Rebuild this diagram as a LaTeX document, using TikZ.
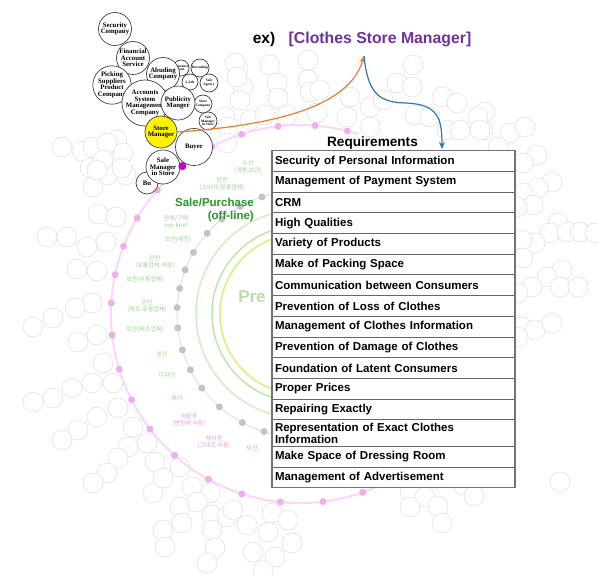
\documentclass[tikz,border=0pt]{standalone}
\usepackage{fontspec}
\setmainfont{Liberation Serif}
\newfontfamily\sansb{Liberation Sans}
\newfontfamily\kr{Noto Sans CJK KR}
\usetikzlibrary{arrows.meta,calc}
\definecolor{pinkline}{RGB}{250,215,250}
\definecolor{pinkdot}{RGB}{236,176,236}
\definecolor{magdot}{RGB}{204,0,204}
\definecolor{grayline}{RGB}{225,225,225}
\definecolor{graydot}{RGB}{195,195,195}
\definecolor{ttlpurple}{RGB}{112,48,160}
\definecolor{arrorange}{RGB}{237,125,49}
\definecolor{arrblue}{RGB}{46,117,182}
\definecolor{salegreen}{RGB}{40,150,40}
\definecolor{faintgreen}{RGB}{160,210,150}
\definecolor{faintpink}{RGB}{228,160,228}
\definecolor{faintcirc}{RGB}{218,218,218}
\definecolor{ringgreen}{RGB}{205,240,195}
\definecolor{ringgreenb}{RGB}{185,232,170}
\definecolor{ringyellow}{RGB}{225,240,150}
\definecolor{pregreen}{RGB}{185,222,165}
\tikzset{
 bub/.style={circle, draw=black!75, line width=0.7pt, fill=white, inner sep=0pt, align=center,
   font=\fontsize{6.8}{6.6}\selectfont\bfseries},
 smallbub/.style={bub, font=\fontsize{3.5}{3.7}\selectfont\bfseries},
 req/.style={draw=black!60, line width=0.8pt, fill=white, anchor=north west, minimum width=243pt,
   minimum height=20.7pt, text width=237pt, inner sep=3pt, outer sep=0pt, align=left,
   font=\sansb\fontsize{11.5}{12}\selectfont\bfseries},
 fcirc/.style={draw=faintcirc, line width=0.45pt, fill=white},
 pdot/.style={fill=pinkdot},
 gdot/.style={fill=graydot},
 flabg/.style={text=faintgreen, font=\kr\fontsize{6}{7}\selectfont, align=center, inner sep=0pt},
 flabp/.style={text=faintpink, font=\kr\fontsize{6}{7}\selectfont, align=center, inner sep=0pt},
 conn/.style={line width=1.2pt, -{Stealth[length=7pt,width=6pt]}},
}
\begin{document}
\begin{tikzpicture}[x=1pt,y=-1pt]
\useasboundingbox (0,0) rectangle (598,575);
\fill[white] (0,0) rectangle (598,575);
% faint background circles
\foreach \x/\y in {62/147,82/151,100/153,117/140,120/160,90/168,108/175,126/175,93/187,98/214,116/217,
 47/237,67/237,87/247,106/242,77/269,97/271,92/303,75/308,53/318,33/327,97/335,78/342,
 103/363,92/383,113/383,72/388,53/398,33/402,118/408,97/417,78/430,62/440,133/427,128/447,147/443,
 118/458,107/473,93/483,153/493,155/462,163/478,180/467,192/487,210/493,180/507,197/502,163/530,
 182/523,165/547,212/515,227/517,247/525,212/530,215/548,207/563,233/510,272/513,288/520,268/532,
 292/543,253/552,275/557,263/570,410/492,425/497,410/507,438/506,442/523,463/485,474/496,560/482,
 485/112,483/130,510/133,525/127,498/147,537/155,523/163,552/182,538/188,523/193,533/205,517/207,
 558/223,550/233,567/232,580/232,595/233,535/243,522/240,523/258,562/270,547/277,532/287,560/287,
 578/287,518/293,522/327,535/330,552/323,518/337,
 238/68,243/87,270/65,277/83,240/100,278/98,225/117,250/120,265/115,287/115,220/135,
 308/60,308/80,310/92,320/90,350/97,317/113,347/117,370/127,370/107,383/100,397/83,413/65,412/87,
 442/97,457/103,478/117,415/115,430/117,447/130,460/130,480/130,
 93/147,107/143,123/153,103/160,122/168,97/170,235/63,237/77,228/127,227/143}
 {\draw[fcirc] (\x,\y) circle (10);}
% rings
\draw[ringgreen, line width=1.5pt] (300,314) circle (104);
\draw[ringgreenb, line width=1.5pt] (300,314) circle (88);
\draw[ringyellow, line width=2pt] (300,314) circle (80);
\draw[grayline, line width=1pt] (300,314) circle (123);
\foreach \a in {107,118,131,143,153,163,173.5,183,192,201,210,221,230.5,241,252}
 {\fill[gdot] ($(300,314)+(\a:123)$) circle (3.5);}
\draw[pinkline, line width=2pt] (300,314) ++(66:189) arc[start angle=66, end angle=288, radius=189];
\foreach \a in {-75.5,-85.4,-96.7,-108,-117.8,-139,-149.5,-159,-168,-176.7,173.6,163,153,142.5,131.6,119,107.9,96,83,70.6}
 {\fill[pdot] ($(300,314)+(\a:189)$) circle (3.5);}
\node[text=pregreen, font=\sansb\fontsize{17}{17}\selectfont\bfseries] (pre) at (252,297) {Pre};
% faint stage labels
\node[flabg] (l1) at (248,167) {수선\\(개봉,보관)};
\node[flabg] (l2) at (222,184) {운반\\(소비자/유통업체)};
\node[flabg] (l3) at (176,222) {판매/구매\\(on-line)};
\node[flabg] (l4) at (178,240) {보관(매장)};
\node[flabg] (l5) at (155,262) {운반\\(유통업체-매장)};
\node[flabg] (l6) at (145,280) {보관(유통업체)};
\node[flabg] (l7) at (147,306) {운반\\(제조-유통업체)};
\node[flabg] (l8) at (145,330) {보관(제조업체)};
\node[flabg] (l9) at (162,354) {생산};
\node[flabg] (l10) at (167,375) {디자인};
\node[flabp] (l11) at (177,398) {폐기};
\node[flabp] (l12) at (189,420) {재활용\\(변형해 사용)};
\node[flabp] (l13) at (214,442) {재사용\\(그대로 사용)};
\node[flabp] (l14) at (252,448) {보관};
\node[text=salegreen, font=\sansb\fontsize{11.5}{13}\selectfont\bfseries, align=right, anchor=east, inner sep=0pt] (sale) at (254,210) {Sale/Purchase\\(off-line)};
% bubble cluster
\node[bub, minimum size=33pt] (sec) at (115,29) {Security\\Company};
\node[bub, minimum size=33pt] (fin) at (133,58) {Financial\\Account\\Service};
\node[bub, minimum size=34pt] (pick) at (112,85) {Picking\\Suppliers\\Product\\Company};
\node[smallbub, minimum size=16pt] (s1) at (181,68) {Insurance\\Com.};
\node[smallbub, minimum size=18pt] (s2) at (200,68) {Recruiting};
\node[bub, minimum size=33pt] (abu) at (163,74) {Abuding\\Company};
\node[smallbub, minimum size=16pt] (s3) at (190,82) {L.I.th};
\node[smallbub, minimum size=18pt] (s4) at (209,83) {Sale\\Agency};
\node[bub, minimum size=34pt] (acc) at (145,103) {Accounts\\System\\Management\\Company};
\node[smallbub, minimum size=18pt] (s5) at (203,104) {Store\\Company};
\node[bub, minimum size=34pt] (pub) at (178,103) {Publicity\\Manger};
\node[smallbub, minimum size=18pt] (s6) at (208,121) {Sale\\Manager\\in Store};
\node[bub, minimum size=37pt] (buyer) at (194,147) {Buyer};
\node[bub, minimum size=32pt, fill=yellow] (store) at (161,132) {Store\\Manager};
\node[bub, minimum size=22pt] (bu) at (147,183) {Bu};
\node[bub, minimum size=34pt] (salem) at (163,167) {Sale\\Manager\\in Store};
\fill[magdot] ($(300,314)+(-128.5:189)$) circle (4);
% title
\node[font=\sansb\fontsize{15.5}{16}\selectfont\bfseries, inner sep=0pt] (ex) at (264,39) {ex)};
\node[font=\sansb\fontsize{15.8}{16}\selectfont\bfseries, text=ttlpurple, inner sep=0pt] (title) at (380,39) {[Clothes Store Manager]};
\coordinate (tip) at (364,56);
% requirements table
\node[font=\sansb\fontsize{13.6}{14}\selectfont\bfseries, inner sep=0pt] (reqh) at (372.5,143) {Requirements};
\node[req] (r1) at (272,150.7) {Security of Personal Information};
\node[req] (r2) at (r1.south west) {Management of Payment System};
\node[req] (r3) at (r2.south west) {CRM};
\node[req] (r4) at (r3.south west) {High Qualities};
\node[req] (r5) at (r4.south west) {Variety of Products};
\node[req] (r6) at (r5.south west) {Make of Packing Space};
\node[req] (r7) at (r6.south west) {Communication between Consumers};
\node[req] (r8) at (r7.south west) {Prevention of Loss of Clothes};
\node[req] (r9) at (r8.south west) {Management of Clothes Information};
\node[req] (r10) at (r9.south west) {Prevention of Damage of Clothes};
\node[req] (r11) at (r10.south west) {Foundation of Latent Consumers};
\node[req] (r12) at (r11.south west) {Proper Prices};
\node[req] (r13) at (r12.south west) {Repairing Exactly};
\node[req, minimum height=26pt] (r14) at (r13.south west) {Representation of Exact Clothes\\Information};
\node[req] (r15) at (r14.south west) {Make Space of Dressing Room};
\node[req] (r16) at (r15.south west) {Management of Advertisement};
\draw[black!55, line width=1.3pt] (r1.north west) rectangle (r16.south east);
\coordinate (btip) at (442,149);
% connectors
\draw[conn, arrorange] (store.east) .. controls (280,125) and (350,105) .. (tip);
\draw[conn, arrblue] (tip) .. controls (368,95) and (380,102) .. (405,103) .. controls (438,104) and (442,118) .. (btip);
\end{tikzpicture}
\end{document}
